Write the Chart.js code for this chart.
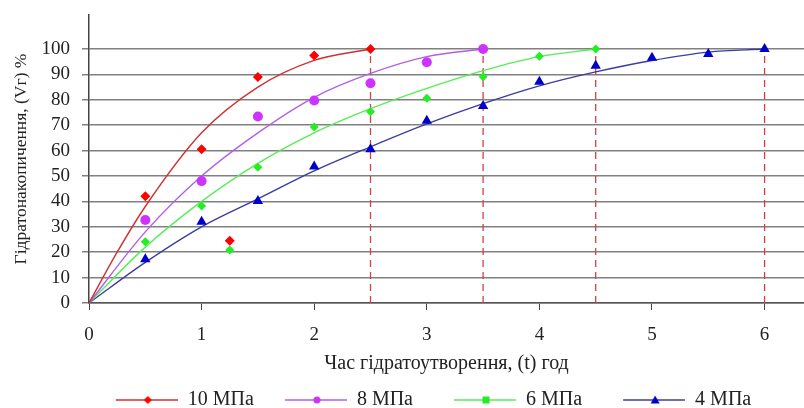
<!DOCTYPE html>
<html>
<head>
<meta charset="utf-8">
<script src="https://cdn.jsdelivr.net/npm/chart.js@4/dist/chart.umd.min.js"></script>
<style>
  html, body { margin: 0; padding: 0; background: #fff; overflow: hidden; }
  #wrap { width: 804px; height: 408px; }
</style>
</head>
<body>
<div id="wrap"><canvas id="chart"></canvas></div>
<script>
// Осі
const xTicks = [0, 1, 2, 3, 4, 5, 6];
const yTicks = [0, 10, 20, 30, 40, 50, 60, 70, 80, 90, 100];
const seriesNames = ['10 МПа', '8 МПа', '6 МПа', '4 МПа'];

// Експериментальні точки
const p10_t = [0.5, 1, 1.25, 1.5, 2, 2.5];
const p10_v = [42, 60.5, 24.5, 89, 97.5, 100];
const p8_t = [0.5, 1, 1.5, 2, 2.5, 3, 3.5];
const p8_v = [32.7, 48, 73.4, 79.7, 86.5, 94.8, 100];
const p6_t = [0.5, 1, 1.25, 1.5, 2, 2.5, 3, 3.5, 4, 4.5];
const p6_v = [24.1, 38.2, 20.9, 53.5, 69.3, 75.3, 80.6, 89.1, 97.2, 100];
const p4_t = [0.5, 1, 1.5, 2, 2.5, 3, 3.5, 4, 4.5, 5, 5.5, 6];
const p4_v = [17.2, 32, 40.2, 53.7, 60.5, 71.8, 77.6, 87.1, 93.4, 96.6, 98, 100];

// Лінії тренду
const c10_t = [0, 0.25, 0.5, 1, 1.5, 2, 2.5];
const c10_v = [0, 20, 38, 67, 85, 95.5, 100];
const c8_t = [0, 0.5, 1, 1.5, 2, 2.5, 3, 3.5];
const c8_v = [0, 28, 50, 67, 81, 90.4, 97, 100];
const c6_t = [0, 0.5, 1, 1.5, 2, 2.5, 3, 3.5, 4, 4.5];
const c6_v = [0, 22, 40, 55, 67, 76.5, 84.5, 91.5, 97, 100];
const c4_t = [0, 0.5, 1, 1.5, 2, 2.5, 3, 3.5, 4, 4.5, 5, 5.5, 6];
const c4_v = [0, 16, 30, 41, 52, 61.5, 70.5, 78.5, 85.5, 91, 95.5, 98.8, 100];

// Межі гідратоутворення (пунктир)
const limits = [2.5, 3.5, 4.5, 6];

const markerColors = ['#ff0000', '#cc33ff', '#22ee22', '#0000cc'];
const lineColors = ['#d03030', '#b45ee8', '#55ee55', '#3c3ca0'];
const markerStyles = ['rectRot', 'circle', 'rectRot', 'triangle'];
const legendStyles = ['rectRot', 'circle', 'rect', 'triangle'];
const markerSizes = [5, 5, 4.5, 6];

const pts = [[p10_t, p10_v], [p8_t, p8_v], [p6_t, p6_v], [p4_t, p4_v]];
const curves = [[c10_t, c10_v], [c8_t, c8_v], [c6_t, c6_v], [c4_t, c4_v]];

const toXY = (t, v) => t.map((x, i) => ({ x: x, y: v[i] }));

// значок легенди: лінія з маркером (зліва порожнє місце як відступ між пунктами)
const ICON_W = 87, LINE_W = 62;
function legendIcon(i) {
    const gap = ICON_W - LINE_W;
    const c = document.createElement('canvas');
    c.width = ICON_W; c.height = 14;
    const g = c.getContext('2d');
    g.strokeStyle = lineColors[i];
    g.lineWidth = 1.5;
    g.beginPath(); g.moveTo(gap, 7); g.lineTo(ICON_W, 7); g.stroke();
    g.fillStyle = markerColors[i];
    const m = gap + 32, r = 4;
    g.beginPath();
    if (legendStyles[i] === 'rectRot') {
        g.moveTo(m, 7 - r); g.lineTo(m + r, 7); g.lineTo(m, 7 + r); g.lineTo(m - r, 7);
    } else if (legendStyles[i] === 'circle') {
        g.arc(m, 7, 3.5, 0, Math.PI * 2);
    } else if (legendStyles[i] === 'rect') {
        g.rect(m - 3.5, 3.5, 7, 7);
    } else {
        g.moveTo(m, 2.5); g.lineTo(m + 4.5, 10.5); g.lineTo(m - 4.5, 10.5);
    }
    g.closePath(); g.fill();
    return c;
}

// легенда в оригіналі трохи зсунута вправо
const legendShift = {
    id: 'legendShift',
    afterLayout(chart) {
        if (chart.legend) {
            chart.legend.left += 21;
            chart.legend.right += 21;
        }
    }
};

const datasets = [];
curves.forEach((c, i) => {
    datasets.push({
        label: 'trend' + i,
        data: toXY(c[0], c[1]),
        showLine: true,
        borderColor: lineColors[i],
        borderWidth: 1.4,
        pointRadius: 0,
        cubicInterpolationMode: 'monotone',
        fill: false,
        order: 2
    });
});
limits.forEach((x, i) => {
    datasets.push({
        label: 'lim' + i,
        data: [{ x: x, y: 0 }, { x: x, y: 100 }],
        showLine: true,
        borderColor: '#cc4444',
        borderWidth: 1.3,
        borderDash: [7, 5],
        pointRadius: 0,
        order: 3
    });
});
pts.forEach((p, i) => {
    datasets.push({
        label: seriesNames[i],
        data: toXY(p[0], p[1]),
        showLine: false,
        pointStyle: markerStyles[i],
        pointRadius: markerSizes[i],
        backgroundColor: markerColors[i],
        borderColor: markerColors[i],
        borderWidth: 0,
        order: 1
    });
});

const serif = 'Liberation Serif';

new Chart(document.getElementById('chart'), {
    type: 'scatter',
    data: { datasets: datasets },
    plugins: [legendShift],
    options: {
        responsive: true,
        maintainAspectRatio: false,
        animation: false,
        layout: { autoPadding: false, padding: { top: 15, right: 0, left: 6, bottom: -12 } },
        plugins: {
            tooltip: { enabled: false },
            legend: {
                position: 'bottom',
                labels: {
                    usePointStyle: true,
                    pointStyleWidth: ICON_W,
                    color: '#222',
                    font: { family: serif, size: 20 },
                    padding: 6,
                    generateLabels: chart => {
                        const n = chart.data.datasets.length;
                        return seriesNames.map((name, i) => ({
                            // однакова ширина підписів
                            text: name.length < 6 ? name + '\u2002' : name,
                            pointStyle: legendIcon(i),
                            fillStyle: markerColors[i],
                            strokeStyle: lineColors[i],
                            lineWidth: 0,
                            datasetIndex: n - 4 + i,
                            fontColor: '#222'
                        }));
                    }
                }
            }
        },
        scales: {
            x: {
                type: 'linear',
                min: 0,
                max: 6.35,
                afterBuildTicks: axis => { axis.ticks = xTicks.map(v => ({ value: v })); },
                afterFit: scale => {
                    scale.height = 81;
                    scale.paddingLeft = 0;
                    scale.paddingRight = 0;
                },
                grid: { display: true, drawOnChartArea: false, tickLength: 7, color: '#444' },
                border: { color: '#555', width: 1.5 },
                ticks: { color: '#222', font: { family: serif, size: 19 }, padding: 14 },
                title: {
                    display: true,
                    text: 'Час гідратоутворення, (t) год',
                    color: '#222',
                    font: { family: serif, size: 20 },
                    padding: { top: 2, bottom: 8 }
                }
            },
            y: {
                min: 0,
                max: 113.4,
                afterBuildTicks: axis => { axis.ticks = yTicks.map(v => ({ value: v })); },
                afterFit: scale => {
                    scale.width = 83;
                    scale.paddingTop = 0;
                    scale.paddingBottom = 0;
                },
                grid: { color: '#808080', lineWidth: 1.5, tickLength: 7 },
                border: { color: '#444', width: 1.5 },
                ticks: { color: '#222', font: { family: serif, size: 19 }, padding: 12 },
                title: {
                    display: true,
                    text: 'Гідратонакопичення, (Vг) %',
                    color: '#222',
                    font: { family: serif, size: 17.5 },
                    padding: { top: 5, bottom: 0 }
                }
            }
        }
    }
});
</script>
</body>
</html>
